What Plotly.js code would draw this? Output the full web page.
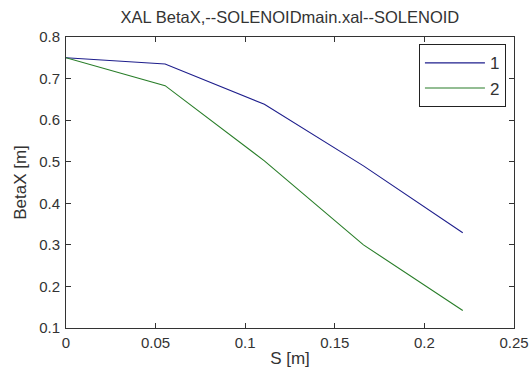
<!DOCTYPE html>
<html>
<head>
<meta charset="utf-8">
<script src="https://cdn.plot.ly/plotly-3.0.1.min.js"></script>
<style>html,body{margin:0;padding:0;background:#fff;}#chart{width:532px;height:377px;}</style>
</head>
<body>
<div id="chart"></div>
<script>
var sValues = [0, 0.0553, 0.1107, 0.166, 0.2214];
var beta1 = [0.750, 0.735, 0.638, 0.490, 0.329];
var beta2 = [0.750, 0.683, 0.502, 0.300, 0.142];
var seriesNames = ['1', '2'];
var xTicks = [0, 0.05, 0.1, 0.15, 0.2, 0.25];
var xTickText = ['0', '0.05', '0.1', '0.15', '0.2', '0.25'];
var yTicks = [0.1, 0.2, 0.3, 0.4, 0.5, 0.6, 0.7, 0.8];
var yTickText = ['0.1', '0.2', '0.3', '0.4', '0.5', '0.6', '0.7', '0.8'];

var fam = 'Liberation Sans, Arial, sans-serif';
var tickFont = {family: fam, size: 15, color: '#333'};
var labelFont = {family: fam, size: 17, color: '#333'};
var traces = [
  {x: sValues, y: beta1, name: seriesNames[0], mode: 'lines', line: {color: 'rgb(30,30,140)', width: 1.1}},
  {x: sValues, y: beta2, name: seriesNames[1], mode: 'lines', line: {color: 'rgb(40,125,40)', width: 1.1}}
];
var axisCommon = {
  showgrid: false, zeroline: false, showline: true, linecolor: '#333', linewidth: 1,
  mirror: 'ticks', ticks: 'inside', ticklen: 5, tickcolor: '#333', tickfont: tickFont
};
var layout = {
  width: 532, height: 377,
  margin: {l: 66, r: 18, t: 37, b: 49},
  paper_bgcolor: '#fff', plot_bgcolor: '#fff',
  font: tickFont,
  title: {text: 'XAL BetaX,--SOLENOIDmain.xal--SOLENOID', font: {family: fam, size: 16.5, color: '#333'},
    x: 0.545, xanchor: 'center', y: 0.955, yanchor: 'middle'},
  xaxis: Object.assign({}, axisCommon, {range: [0, 0.25], tickvals: xTicks, ticktext: xTickText,
    ticklabelstandoff: 1,
    title: {text: 'S [m]', font: labelFont, standoff: 2}}),
  yaxis: Object.assign({}, axisCommon, {range: [0.1, 0.8], tickvals: yTicks, ticktext: yTickText,
    ticklabelstandoff: 2,
    title: {text: 'BetaX [m]', font: labelFont, standoff: 8}}),
  showlegend: true,
  legend: {x: 0.982, y: 0.975, xanchor: 'right', yanchor: 'top', bordercolor: '#222', borderwidth: 1,
    bgcolor: '#fff', font: {family: fam, size: 17, color: '#333'}, itemwidth: 60,
    traceorder: 'normal'}
};
Plotly.newPlot('chart', traces, layout, {displayModeBar: false, staticPlot: true});
</script>
</body>
</html>
